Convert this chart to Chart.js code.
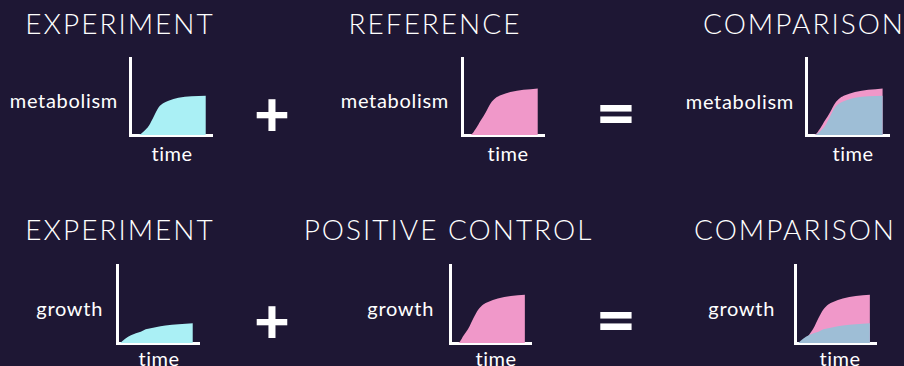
<!DOCTYPE html>
<html lang="en">
<head>
<meta charset="UTF-8">
<title>Experiment vs reference / positive control</title>
<script src="https://cdn.jsdelivr.net/npm/chart.js"></script>
<style>
  html, body { margin: 0; padding: 0; }
  body { width: 904px; height: 366px; background: #1e1734; position: relative; overflow: hidden;
         font-family: 'Lato', 'Open Sans', sans-serif; color: #fff; }
  .title { position: absolute; font-size: 28px; font-weight: 300; letter-spacing: 2px; white-space: nowrap; line-height: 1; transform: translate(-50%, -50%); }
  .ylab { position: absolute; font-size: 20px; letter-spacing: 0.7px; white-space: nowrap; line-height: 1; transform: translate(-100%, -50%); }
  .xlab { position: absolute; font-size: 20px; letter-spacing: 0.5px; white-space: nowrap; line-height: 1; transform: translate(-50%, -50%); }
  .op { position: absolute; font-weight: 900; line-height: 1; transform: translate(-50%, -50%); }
  .eq { transform: translate(-50%, -50%) scale(1.2, 1.1); }
  canvas { position: absolute; }
</style>
</head>
<body>
<script>
// time axis shared by every small plot (0..10)
const time = [0.4, 1, 1.7, 2.3, 2.9, 3.5, 4.1, 4.7, 5.9, 7.5, 9.25];
// values 0..100
const metabolismExperiment = [0, 0, 5, 12, 24, 36, 41.5, 44.5, 48.3, 50.4, 51];
const metabolismReference = [0, 0, 8.3, 19, 29.7, 41.3, 48, 51.5, 55.8, 58.7, 60.5];
const growthExperiment = [0, 5.6, 10, 12.5, 14.5, 17.5, 19, 20.2, 22.4, 24, 25.3];
const growthControl = [0, 0, 9.9, 19.2, 32, 42.8, 49.2, 52.6, 56.9, 60.3, 62];

const CYAN = '#aaf0f5';
const PINK = '#f098c9';
const BLUE = '#9ebed6';
const PAD = 4;

function addText(cls, text, x, y, extra) {
    const d = document.createElement('div');
    d.className = cls;
    d.textContent = text;
    d.style.left = x + 'px';
    d.style.top = y + 'px';
    if (extra) Object.assign(d.style, extra);
    document.body.appendChild(d);
}

function series(values, color) {
    return {
        data: time.map((t, i) => ({ x: t, y: values[i] })),
        backgroundColor: color,
        borderWidth: 0,
        pointRadius: 0,
        fill: 'origin',
        cubicInterpolationMode: 'monotone'
    };
}

function smallPlot(area, datasets) {
    const c = document.createElement('canvas');
    const w = area.right - area.left + 2 * PAD;
    const h = area.bottom - area.top + 2 * PAD;
    c.width = w; c.height = h;
    c.style.left = (area.left - PAD) + 'px';
    c.style.top = (area.top - PAD) + 'px';
    document.body.appendChild(c);
    const axis = {
        display: true,
        z: 1,
        ticks: { display: false },
        grid: { display: false, drawTicks: false },
        border: { display: true, color: '#ffffff', width: 3 }
    };
    new Chart(c.getContext('2d'), {
        type: 'line',
        data: { datasets: datasets },
        options: {
            responsive: false,
            animation: false,
            layout: { padding: PAD },
            plugins: { legend: { display: false }, tooltip: { enabled: false } },
            scales: {
                x: Object.assign({ type: 'linear', min: 0, max: 10 }, axis),
                y: Object.assign({ min: 0, max: 100 }, axis)
            }
        }
    });
}

// row 1 : metabolism
addText('title', 'EXPERIMENT', 120, 23);
addText('title', 'REFERENCE', 435, 23);
addText('title', 'COMPARISON', 804, 23);
addText('ylab', 'metabolism', 118, 100);
addText('ylab', 'metabolism', 449, 100);
addText('ylab', 'metabolism', 794, 101);
addText('xlab', 'time', 172, 153);
addText('xlab', 'time', 508, 153);
addText('xlab', 'time', 853, 153);
addText('op', '+', 272, 112, { fontSize: '62px' });
addText('op eq', '=', 616, 112, { fontSize: '58px' });

smallPlot({ left: 129.5, top: 58, right: 212, bottom: 135.5 }, [series(metabolismExperiment, CYAN)]);
smallPlot({ left: 462.3, top: 58, right: 545, bottom: 135.6 }, [series(metabolismReference, PINK)]);
smallPlot({ left: 805.7, top: 58, right: 889, bottom: 135.7 }, [series(metabolismExperiment, BLUE), series(metabolismReference, PINK)]);

// row 2 : growth
addText('title', 'EXPERIMENT', 120, 229);
addText('title', 'POSITIVE CONTROL', 448.5, 229);
addText('title', 'COMPARISON', 795, 229);
addText('ylab', 'growth', 103, 308);
addText('ylab', 'growth', 434, 308);
addText('ylab', 'growth', 775, 308);
addText('xlab', 'time', 159, 358);
addText('xlab', 'time', 496, 358);
addText('xlab', 'time', 840, 358);
addText('op', '+', 272, 319, { fontSize: '62px' });
addText('op eq', '=', 616, 319, { fontSize: '58px' });

smallPlot({ left: 117, top: 265.3, right: 199.3, bottom: 343.7 }, [series(growthExperiment, CYAN)]);
smallPlot({ left: 450.3, top: 265.3, right: 532, bottom: 343.7 }, [series(growthControl, PINK)]);
smallPlot({ left: 794.7, top: 265.3, right: 876, bottom: 343.7 }, [series(growthExperiment, BLUE), series(growthControl, PINK)]);
</script>
</body>
</html>
